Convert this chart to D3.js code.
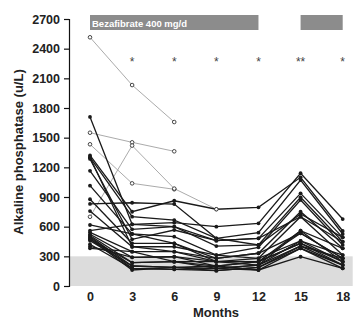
<!DOCTYPE html>
<html>
<head>
<meta charset="utf-8">
<script src="https://cdn.jsdelivr.net/npm/d3@7"></script>
<style>
  body { margin: 0; background: #fff; }
  text { font-family: "Liberation Sans", Arial, sans-serif; }
</style>
</head>
<body>
<div id="chart"></div>
<script>
// months of follow-up
var months = [0, 3, 6, 9, 12, 15, 18];
var yTicks = [0, 300, 600, 900, 1200, 1500, 1800, 2100, 2400, 2700];

// patients on treatment (black, filled markers)
var treated = [
  [1710, 624, 640, 600, 634, 1140, 677],
  [1320, 751, 862, 776, 796, 1099, 556],
  [1300, 701, 667, 482, 539, 1072, 526],
  [1285, 472, 566, 458, 482, 937, 492],
  [1300, 397, 347, 246, 246, 533, 280],
  [1165, 573, 600, 404, 415, 897, 448],
  [1015, 526, 499, 313, 391, 870, 415],
  [877, 432, 432, 280, 331, 751, 381],
  [830, 842, 829, 482, 415, 728, 492],
  [758, 397, 397, 313, 280, 701, 313],
  [617, 526, 432, 246, 246, 559, 381],
  [560, 624, 600, 458, 482, 701, 448],
  [543, 347, 347, 280, 331, 533, 280],
  [523, 290, 296, 246, 280, 455, 313],
  [510, 236, 246, 202, 246, 432, 246],
  [499, 202, 189, 179, 212, 404, 280],
  [490, 179, 169, 155, 189, 381, 212],
  [478, 162, 189, 202, 162, 296, 179],
  [470, 236, 246, 246, 212, 455, 246],
  [459, 202, 189, 155, 189, 404, 212],
  [422, 179, 169, 179, 162, 381, 179],
  [400, 290, 296, 202, 246, 432, 212],
  [381, 347, 246, 179, 212, 559, 246]
];

// patients who dropped out (grey, open markers)
var dropped = [
  [2515, 2032, 1658, null, null, null, null],
  [1550, 1453, 1362, null, null, null, null],
  [1433, 1038, 978, null, null, null, null],
  [700, 1420, 985, 776, null, null, null]
];

var starMonths = [3, 6, 9, 12, 15, 18];
var starLabels = ["*", "*", "*", "*", "**", "*"];

var treatBars = [
  {from: 0, to: 12, label: "Bezafibrate 400 mg/d"},
  {from: 15, to: 18, label: ""}
];
var normalLimit = 300;

var svg = d3.select("#chart")
  .append("svg")
    .attr("width", 360)
    .attr("height", 326);

var x = d3.scaleLinear()
  .domain([0, 18])
  .range([90, 342.7]);

var y = d3.scaleLinear()
  .domain([0, 2700])
  .range([286, 19]);

// normal range band
svg.append("rect")
  .attr("x", 69)
  .attr("y", y(normalLimit))
  .attr("width", 352.7 - 69)
  .attr("height", y(0) - y(normalLimit))
  .attr("fill", "#dcdcdc");

// y axis
var yAxis = svg.append("g")
  .attr("transform", "translate(69,0)")
  .call(d3.axisLeft(y).tickValues(yTicks).tickFormat(d3.format("d")).tickSize(5).tickPadding(4));
yAxis.select(".domain").attr("stroke", "#111").attr("stroke-width", 1.2);
yAxis.selectAll(".tick line").attr("stroke", "#111").attr("stroke-width", 1.2);
yAxis.selectAll(".tick text")
  .attr("font-size", 12.5)
  .attr("font-weight", "bold")
  .attr("fill", "#222")
  .style("font-family", "'Liberation Sans', Arial, sans-serif");

// x tick labels (no axis line)
var xAxis = svg.append("g")
  .attr("transform", "translate(0,286)")
  .call(d3.axisBottom(x).tickValues(months).tickSize(0).tickPadding(6));
xAxis.select(".domain").remove();
xAxis.selectAll(".tick text")
  .attr("font-size", 12.5)
  .attr("font-weight", "bold")
  .attr("fill", "#222")
  .style("font-family", "'Liberation Sans', Arial, sans-serif");

svg.append("text")
  .attr("x", 216)
  .attr("y", 317)
  .attr("text-anchor", "middle")
  .attr("font-size", 13)
  .attr("font-weight", "bold")
  .attr("fill", "#222")
  .text("Months");

svg.append("text")
  .attr("transform", "translate(23,152) rotate(-90)")
  .attr("text-anchor", "middle")
  .attr("font-size", 13)
  .attr("font-weight", "bold")
  .attr("fill", "#222")
  .text("Alkaline phosphatase (u/L)");

// treatment bars
svg.selectAll(".tbar")
  .data(treatBars)
  .enter().append("rect")
    .attr("x", function(d) { return x(d.from) })
    .attr("y", 15)
    .attr("width", function(d) { return x(d.to) - x(d.from) })
    .attr("height", 15)
    .attr("fill", "#8c8c8c");
svg.selectAll(".tlabel")
  .data(treatBars)
  .enter().append("text")
    .attr("x", function(d) { return x(d.from) + 2 })
    .attr("y", 26.5)
    .attr("font-size", 9.5)
    .attr("font-weight", "bold")
    .attr("fill", "#fff")
    .text(function(d) { return d.label });

// significance stars
svg.selectAll(".star")
  .data(starMonths)
  .enter().append("text")
    .attr("x", function(d) { return x(d) })
    .attr("y", 66)
    .attr("text-anchor", "middle")
    .attr("font-size", 12)
    .attr("fill", "#444")
    .text(function(d, i) { return starLabels[i] });

var line = d3.line()
  .defined(function(d) { return d != null })
  .x(function(d, i) { return x(months[i]) })
  .y(function(d) { return y(d) });

// grey (dropped) lines
svg.selectAll(".dline")
  .data(dropped)
  .enter().append("path")
    .attr("fill", "none")
    .attr("stroke", "#ababab")
    .attr("stroke-width", 1)
    .attr("d", line);

// black lines
svg.selectAll(".tline")
  .data(treated)
  .enter().append("path")
    .attr("fill", "none")
    .attr("stroke", "#1a1a1a")
    .attr("stroke-width", 1.3)
    .attr("d", line);

treated.forEach(function(s) {
  svg.append("g").selectAll("circle")
    .data(s)
    .enter().append("circle")
      .attr("cx", function(d, i) { return x(months[i]) })
      .attr("cy", function(d) { return y(d) })
      .attr("r", 1.9)
      .attr("fill", "#1a1a1a");
});

dropped.forEach(function(s) {
  svg.append("g").selectAll("circle")
    .data(s.filter(function(d) { return d != null }))
    .enter().append("circle")
      .attr("cx", function(d, i) { return x(months[i]) })
      .attr("cy", function(d) { return y(d) })
      .attr("r", 1.8)
      .attr("fill", "#fff")
      .attr("stroke", "#333")
      .attr("stroke-width", 0.9);
});
</script>
</body>
</html>
